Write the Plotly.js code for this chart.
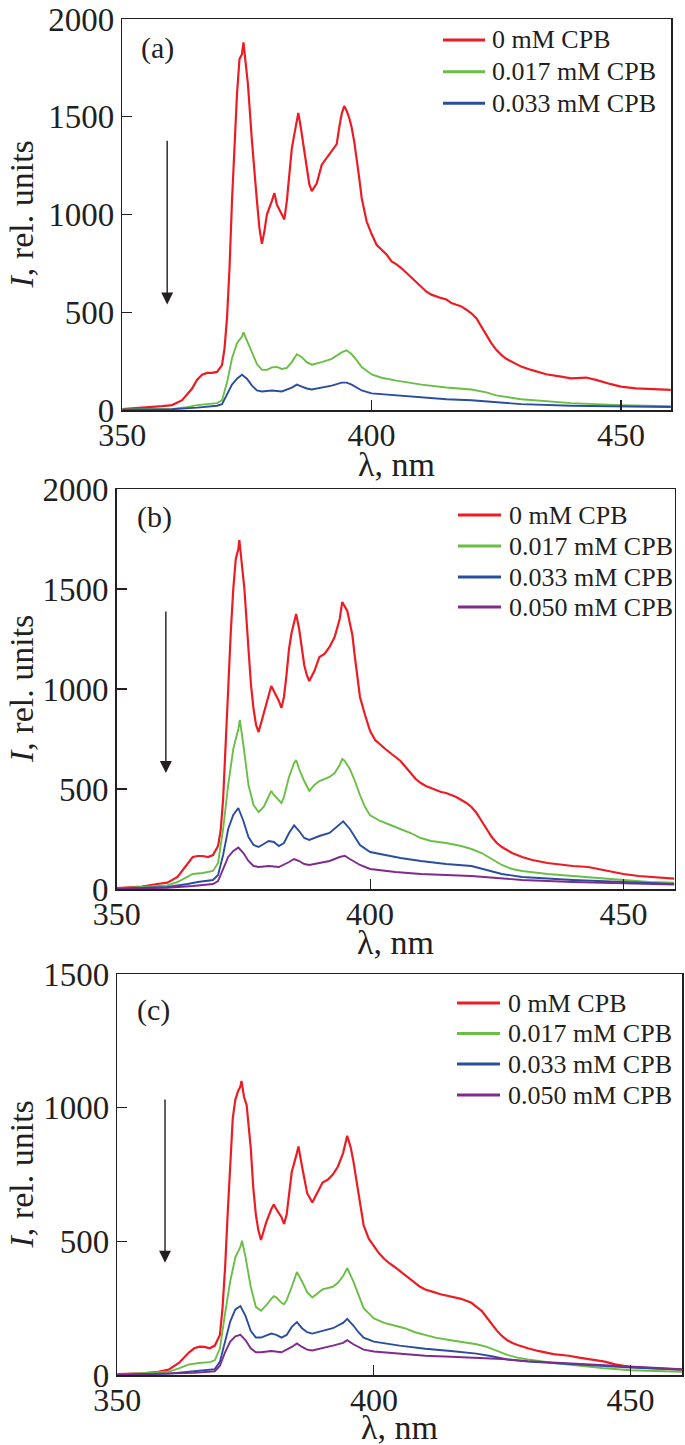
<!DOCTYPE html>
<html>
<head>
<meta charset="utf-8">
<script src="https://cdn.plot.ly/plotly-3.0.1.min.js"></script>
<style>
html,body{margin:0;padding:0;background:#fff;}
#chart{width:685px;height:1445px;}
</style>
</head>
<body>
<div id="chart"></div>
<script>
// ---------- Series names ----------
const seriesNames = ["0 mM CPB", "0.017 mM CPB", "0.033 mM CPB", "0.050 mM CPB"];
const panelLabels = ["(a)", "(b)", "(c)"];
const xTicks = [350, 400, 450];
const xTitle = "λ, nm";
const yTitle = "<i>I</i>, rel. units";

// ---------- Panel (a) ----------
const a_red_x = [350,355,358,360,362,364,365,366,367,368,369,370,370.5,371,371.5,372,372.5,373,373.5,374,374.3,374.7,375.2,376,376.5,377,377.5,378,378.5,379,380,380.5,381,382,382.5,383,383.5,384,384.5,385,385.3,385.8,386.5,387,387.5,388,389,390,391,392,393,393.5,394,394.5,395,395.5,396,396.5,397,397.5,398,399,400,401,402,403,404,405,406,407,408,409,410,411,412,413,414,415,416,417,418,419,420,421,422,423,424,425,426,427,428,430,432,435,438,440,443,445,448,450,453,456,460];
const a_red_y = [5,12,20,25,50,110,155,180,190,190,195,230,315,470,725,1070,1375,1615,1795,1820,1880,1785,1665,1375,1205,1070,930,850,915,1000,1070,1110,1050,1000,975,1070,1220,1340,1410,1480,1520,1445,1325,1240,1155,1120,1160,1255,1290,1325,1360,1445,1515,1555,1530,1495,1445,1375,1290,1190,1085,965,900,845,820,795,760,745,725,700,675,650,625,605,590,580,572,565,547,538,530,513,495,470,427,385,342,308,282,262,248,222,205,183,171,162,166,154,132,120,111,108,103];
const a_green_x = [350,360,363,365,367,369,370,371,372,373,374,374.3,375,376,377,378,379,380,381,382,383,384,385,386,387,388,390,392,394,395,396,397,398,400,402,405,410,415,420,423,425,430,435,440,450,460];
const a_green_y = [3,6,15,25,30,35,50,140,265,342,376,398,355,290,235,205,205,218,220,210,215,245,285,270,245,232,245,262,295,305,285,255,220,182,165,150,130,115,105,90,75,55,45,35,25,20];
const a_blue_x = [350,360,365,369,370,371,372,373,374,375,376,377,378,380,382,384,385,386,387,388,390,392,394,395,396,397,398,400,405,410,415,420,425,430,440,450,460];
const a_blue_y = [2,4,12,22,30,80,130,160,180,160,125,100,95,100,95,115,130,120,110,105,115,125,140,140,130,115,100,85,75,65,55,50,40,30,22,18,15];

// ---------- Panel (b) ----------
const b_red_x = [350,355,358,360,362,364,365,366,367,368,369,370,370.5,371,371.5,372,372.5,373,373.5,374,374.2,374.7,375.2,376,376.5,377,377.5,378,378.5,379,380,380.5,381,382,382.5,383,383.5,384,384.5,385,385.4,386,386.5,387,387.5,388,389,390,391,392,393,394,394.5,395,395.5,396,396.5,397,397.5,398,399,400,401,402,403,404,405,406,407,408,409,410,411,412,413,414,415,416,417,418,419,420,421,422,423,424,425,426,427,428,430,432,435,438,440,443,445,448,450,453,456,460];
const b_red_y = [5,12,25,32,60,130,160,165,165,160,170,215,290,450,700,1000,1280,1500,1650,1700,1745,1620,1500,1200,1020,900,820,785,830,880,960,1015,990,940,905,960,1070,1200,1280,1340,1375,1300,1200,1120,1070,1040,1090,1160,1175,1210,1260,1350,1435,1410,1390,1330,1270,1160,1060,960,870,790,745,720,700,680,660,640,610,580,550,530,515,505,495,485,480,470,460,445,430,410,380,340,300,260,230,210,195,180,160,145,130,120,115,110,100,85,75,65,58,52];
const b_green_x = [350,358,360,362,364,365,367,369,370,371,372,373,374,374.3,375,376,377,378,379,380,380.5,381,382,382.5,383,384,385,385.4,386,387,388,389,390,392,393,394,394.5,395,396,397,398,399,400,402,404,406,408,410,412,415,418,420,422,424,426,428,430,435,440,445,450,455,460];
const b_green_y = [3,12,18,35,60,75,80,90,130,300,520,700,800,845,720,520,420,385,410,460,490,470,440,430,460,560,630,645,600,540,490,520,540,560,580,620,650,640,600,540,470,410,368,340,320,300,280,255,240,230,215,200,180,150,120,100,90,75,65,55,45,35,32];
const b_blue_x = [350,360,364,366,369,370,371,372,373,374,375,376,377,378,380,381,382,383,384,385,386,387,388,390,392,394,394.7,396,397,398,400,403,406,410,415,420,423,426,430,440,450,460];
const b_blue_y = [2,10,25,35,45,70,170,300,370,405,340,260,220,210,240,235,215,230,280,318,290,255,245,265,280,320,338,300,260,220,185,170,155,140,125,115,95,75,60,45,35,25];
const b_purple_x = [350,360,365,369,370,371,372,373,374,375,376,377,378,380,382,384,385,386,387,388,390,392,394,395,396,397,398,400,405,410,415,420,425,430,440,450,460];
const b_purple_y = [2,6,15,25,40,100,160,190,207,180,140,115,110,115,110,135,150,140,125,120,130,140,160,166,150,135,120,100,85,75,70,65,55,45,35,28,22];

// ---------- Panel (c) ----------
const c_red_x = [350,355,358,360,362,364,365,366,367,368,369,370,370.5,371,371.5,372,372.5,373,373.5,374,374.2,374.7,375.2,376,376.5,377,377.5,378,378.5,379,380,380.5,381,382,382.5,383,383.5,384,385,385.3,386,386.5,387,388,389,390,391,392,393,394,394.8,395.5,396,396.5,397,397.5,398,399,400,401,402,403,404,405,406,407,408,409,410,411,412,413,414,415,416,417,418,419,420,421,422,423,424,425,426,427,428,430,432,435,438,440,443,445,447,450,455,460];
const c_red_y = [3,6,12,20,45,85,100,106,105,100,110,150,250,400,600,800,960,1030,1060,1080,1100,1040,1010,850,700,600,540,505,540,570,620,638,620,590,565,600,680,760,830,855,780,730,680,645,680,720,730,750,780,830,895,850,800,740,680,620,560,510,480,455,435,418,405,390,375,360,345,330,320,315,308,302,298,293,290,285,278,270,255,240,215,190,165,145,130,120,112,100,90,78,72,65,57,50,40,30,25,20];
const c_green_x = [350,358,360,362,364,366,368,369,370,371,372,373,374,374.3,375,376,377,378,379,380,380.5,381,382,382.5,383,384,385,386,387,388,389,390,392,393,394,394.8,396,397,398,400,402,404,406,408,410,412,415,418,420,422,424,426,428,430,435,440,445,450,455,460];
const c_green_y = [2,8,12,25,40,45,48,55,100,230,350,440,480,502,440,330,255,240,260,285,295,290,270,265,280,330,385,350,310,290,305,320,330,345,370,400,350,300,250,212,195,185,175,160,150,140,130,122,115,105,90,75,65,58,45,35,25,18,14,12];
const c_blue_x = [350,360,364,368,369,370,371,372,373,374,375,376,377,378,380,381,382,383,384,385,386,387,388,390,392,394,394.8,396,397,398,400,405,410,415,420,423,426,430,440,450,460];
const c_blue_y = [1,5,12,18,22,50,130,200,245,258,220,165,140,140,155,150,140,150,180,198,175,160,155,165,175,195,210,185,160,140,125,110,98,90,80,70,58,50,38,28,20];
const c_purple_x = [350,360,365,369,370,371,372,373,374,375,376,377,378,380,382,384,385,386,387,388,390,392,394,394.8,396,397,398,400,405,410,415,420,425,430,440,450,460];
const c_purple_y = [1,4,8,14,35,85,125,145,150,130,100,85,85,90,85,105,118,105,95,92,100,110,120,130,115,105,95,88,80,72,68,65,60,52,42,30,22];

// ---------- Styling ----------
const colors = ["#ED1C24", "#6BBE45", "#2B4DA0", "#7E2A8E"];
const FONT = "Liberation Serif, Times New Roman, serif";
const INK = "#231f20";
const W = 685, H = 1445;
function px2x(p) { return p / W; }
function px2y(p) { return 1 - p / H; }

function tr(x, y, idx, xa, ya) {
  return {
    type: "scatter", mode: "lines", x: x, y: y,
    name: seriesNames[idx], xaxis: xa, yaxis: ya,
    line: {color: colors[idx], width: idx === 0 ? 2.2 : 1.9},
    showlegend: false, hoverinfo: "skip"
  };
}

const data = [
  tr(a_red_x, a_red_y, 0, "x", "y"),
  tr(a_green_x, a_green_y, 1, "x", "y"),
  tr(a_blue_x, a_blue_y, 2, "x", "y"),
  tr(b_red_x, b_red_y, 0, "x2", "y2"),
  tr(b_green_x, b_green_y, 1, "x2", "y2"),
  tr(b_blue_x, b_blue_y, 2, "x2", "y2"),
  tr(b_purple_x, b_purple_y, 3, "x2", "y2"),
  tr(c_red_x, c_red_y, 0, "x3", "y3"),
  tr(c_green_x, c_green_y, 1, "x3", "y3"),
  tr(c_blue_x, c_blue_y, 2, "x3", "y3"),
  tr(c_purple_x, c_purple_y, 3, "x3", "y3")
];

function xax(domain, anchor) {
  return {
    domain: domain, anchor: anchor, range: [350, 460.1],
    tickvals: xTicks, ticks: "inside", ticklen: 10, tickwidth: 1.2, tickcolor: INK,
    showline: true, linecolor: INK, linewidth: 1.5, mirror: true,
    showgrid: false, zeroline: false, ticklabelstandoff: -4,
    tickfont: {family: FONT, size: 32, color: INK},
    automargin: false
  };
}
function yax(domain, anchor, range, vals) {
  return {
    domain: domain, anchor: anchor, range: range,
    tickvals: vals, ticks: "inside", ticklen: 10, tickwidth: 1.2, tickcolor: INK,
    showline: true, linecolor: INK, linewidth: 1.5, mirror: true,
    showgrid: false, zeroline: false,
    tickfont: {family: FONT, size: 33, color: INK},
    automargin: false
  };
}
function arrow(xa, ya, x, yHead, yTail) {
  return {
    xref: xa, yref: ya, axref: xa, ayref: ya,
    x: x, y: yHead, ax: x, ay: yTail, text: "",
    showarrow: true, arrowhead: 2, arrowsize: 1.7, arrowwidth: 1.4, arrowcolor: INK
  };
}
function plabel(xa, ya, x, y, t) {
  return {
    xref: xa, yref: ya, x: x, y: y, text: t, showarrow: false,
    font: {family: FONT, size: 30, color: INK}, xanchor: "center", yanchor: "middle"
  };
}
function xtitle(xa, ypx) {
  return {
    xref: xa + " domain", yref: "paper", x: 0.5, y: px2y(ypx), text: xTitle,
    showarrow: false, xanchor: "center", yanchor: "middle",
    font: {family: FONT, size: 34, color: INK}
  };
}
function ytitle(ya, xpx) {
  return {
    xref: "paper", yref: ya + " domain", x: px2x(xpx), y: 0.5, text: yTitle,
    showarrow: false, xanchor: "center", yanchor: "middle", textangle: -90,
    font: {family: FONT, size: 34, color: INK}
  };
}

// Legend blocks (line start px, line end px, text start px, row centres px)
const legendBlocks = [
  {x0: 443, x1: 485, tx: 490, rows: [40, 71.7, 103.3], n: 3},
  {x0: 458, x1: 501, tx: 507, rows: [515, 546, 577, 607], n: 4},
  {x0: 457, x1: 500, tx: 506, rows: [1003, 1033.5, 1064, 1095], n: 4}
];
const shapes = [];
const legendAnn = [];
legendBlocks.forEach(b => {
  for (let i = 0; i < b.n; i++) {
    shapes.push({
      type: "line", xref: "paper", yref: "paper",
      x0: px2x(b.x0), x1: px2x(b.x1), y0: px2y(b.rows[i]), y1: px2y(b.rows[i]),
      line: {color: colors[i], width: 3}
    });
    legendAnn.push({
      xref: "paper", yref: "paper", x: px2x(b.tx), y: px2y(b.rows[i]),
      xanchor: "left", yanchor: "middle", showarrow: false, text: seriesNames[i],
      font: {family: FONT, size: 26, color: INK}
    });
  }
});

const layout = {
  width: W, height: H,
  margin: {l: 0, r: 0, t: 0, b: 0},
  paper_bgcolor: "#fff", plot_bgcolor: "#fff",
  showlegend: false,
  xaxis: xax([px2x(122.3), px2x(671.3)], "y"),
  yaxis: yax([px2y(410), px2y(19)], "x", [0, 2000], [0, 500, 1000, 1500, 2000]),
  xaxis2: xax([px2x(116.7), px2x(674.7)], "y2"),
  yaxis2: yax([px2y(889), px2y(489)], "x2", [0, 2000], [0, 500, 1000, 1500, 2000]),
  xaxis3: xax([px2x(117.3), px2x(682.3)], "y3"),
  yaxis3: yax([px2y(1375), px2y(974)], "x3", [0, 1500], [0, 500, 1000, 1500]),
  shapes: shapes,
  annotations: [
    arrow("x", "y", 359, 540, 1385),
    arrow("x2", "y2", 359.7, 580, 1395),
    arrow("x3", "y3", 359.3, 420, 1036),
    plabel("x", "y", 357, 1850, panelLabels[0]),
    plabel("x2", "y2", 357.5, 1860, panelLabels[1]),
    plabel("x3", "y3", 357, 1365, panelLabels[2]),
    xtitle("x", 464),
    xtitle("x2", 942),
    xtitle("x3", 1427),
    ytitle("y", 21),
    ytitle("y2", 21),
    ytitle("y3", 21)
  ].concat(legendAnn)
};

Plotly.newPlot("chart", data, layout, {displayModeBar: false, staticPlot: true});
</script>
</body>
</html>
